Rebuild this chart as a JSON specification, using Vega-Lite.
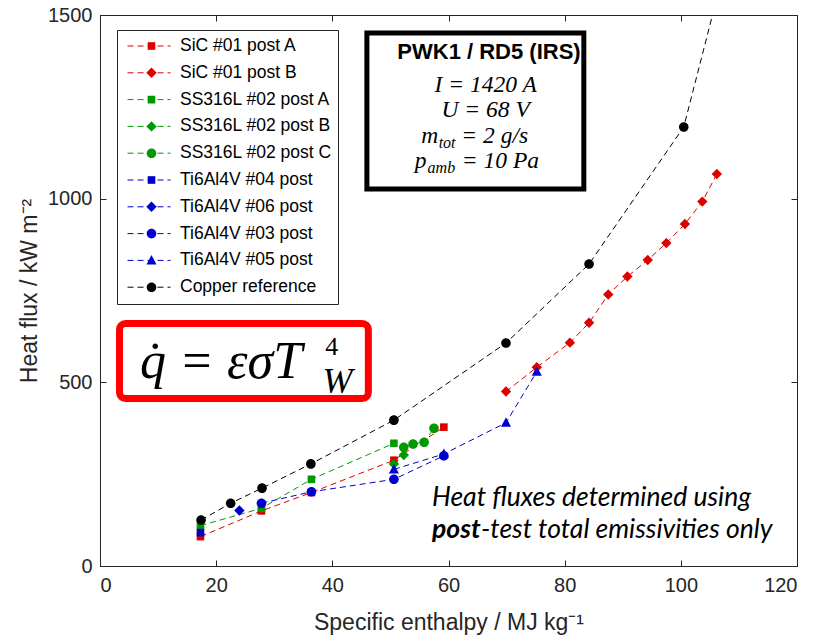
{
  "$schema": "https://vega.github.io/schema/vega-lite/v6.json",
  "width": 697,
  "height": 551,
  "autosize": "none",
  "padding": {"left": 100, "top": 15, "right": 21, "bottom": 73},
  "background": "white",
  "config": {
    "view": {"stroke": "#262626", "strokeWidth": 1},
    "font": "Liberation Sans",
    "axis": {"grid": false}
  },
  "datasets": {
    "pts": [
      {"series": "SiC #01 post A", "x": 17.3, "y": 80},
      {"series": "SiC #01 post A", "x": 27.8, "y": 150},
      {"series": "SiC #01 post A", "x": 36.4, "y": 200},
      {"series": "SiC #01 post A", "x": 50.6, "y": 288},
      {"series": "SiC #01 post A", "x": 59.2, "y": 378},
      {"series": "SiC #01 post B", "x": 69.9, "y": 475},
      {"series": "SiC #01 post B", "x": 75.2, "y": 541},
      {"series": "SiC #01 post B", "x": 80.9, "y": 608},
      {"series": "SiC #01 post B", "x": 84.2, "y": 662},
      {"series": "SiC #01 post B", "x": 87.5, "y": 739},
      {"series": "SiC #01 post B", "x": 90.8, "y": 788},
      {"series": "SiC #01 post B", "x": 94.3, "y": 833},
      {"series": "SiC #01 post B", "x": 97.5, "y": 879},
      {"series": "SiC #01 post B", "x": 100.7, "y": 931},
      {"series": "SiC #01 post B", "x": 103.7, "y": 992},
      {"series": "SiC #01 post B", "x": 106.2, "y": 1067},
      {"series": "SS316L #02 post A", "x": 17.3, "y": 110},
      {"series": "SS316L #02 post A", "x": 27.8, "y": 157},
      {"series": "SS316L #02 post A", "x": 36.4, "y": 236},
      {"series": "SS316L #02 post A", "x": 50.6, "y": 334},
      {"series": "SS316L #02 post B", "x": 50.6, "y": 278},
      {"series": "SS316L #02 post B", "x": 52.3, "y": 302},
      {"series": "SS316L #02 post C", "x": 52.3, "y": 323},
      {"series": "SS316L #02 post C", "x": 53.9, "y": 332},
      {"series": "SS316L #02 post C", "x": 55.8, "y": 337},
      {"series": "SS316L #02 post C", "x": 57.5, "y": 375},
      {"series": "Ti6Al4V #04 post", "x": 17.3, "y": 91},
      {"series": "Ti6Al4V #06 post", "x": 24.0, "y": 151},
      {"series": "Ti6Al4V #03 post", "x": 27.8, "y": 171},
      {"series": "Ti6Al4V #03 post", "x": 36.4, "y": 202},
      {"series": "Ti6Al4V #03 post", "x": 50.6, "y": 236},
      {"series": "Ti6Al4V #03 post", "x": 59.2, "y": 300},
      {"series": "Ti6Al4V #05 post", "x": 50.6, "y": 263},
      {"series": "Ti6Al4V #05 post", "x": 59.2, "y": 305},
      {"series": "Ti6Al4V #05 post", "x": 69.9, "y": 390},
      {"series": "Ti6Al4V #05 post", "x": 75.2, "y": 529},
      {"series": "Copper reference", "x": 17.4, "y": 125},
      {"series": "Copper reference", "x": 22.5, "y": 171},
      {"series": "Copper reference", "x": 27.9, "y": 212},
      {"series": "Copper reference", "x": 36.3, "y": 278},
      {"series": "Copper reference", "x": 50.6, "y": 397},
      {"series": "Copper reference", "x": 69.9, "y": 607},
      {"series": "Copper reference", "x": 84.2, "y": 822},
      {"series": "Copper reference", "x": 100.5, "y": 1195},
      {"series": "Copper reference", "x": 110, "y": 1780}
    ],
    "box_params": [{"x": 45.95, "x2": 83.3, "y": 1451, "y2": 1026}],
    "box_formula": [{"x": 3.36, "x2": 46.2, "y": 660, "y2": 456}],
    "t_title": [{"x": 66.97, "y": 1399, "text": "PWK1 / RD5 (IRS)"}],
    "t_math_c": [
      {"x": 66.4, "y": 1290.4, "text": "I = 1420 A"},
      {"x": 66.4, "y": 1222.3, "text": "U = 68 V"}
    ],
    "t_math_l": [
      {"x": 55.3, "y": 1151.6, "text": "m"},
      {"x": 62.2, "y": 1151.6, "text": "= 2 g/s"},
      {"x": 54.2, "y": 1083.5, "text": "p"},
      {"x": 62.3, "y": 1083.5, "text": "= 10 Pa"}
    ],
    "t_math_sub": [
      {"x": 58.3, "y": 1138, "text": "tot"},
      {"x": 56.4, "y": 1070, "text": "amb"}
    ],
    "t_formula": [{"x": 6.89, "y": 511.8, "text": "q̇ = εσT"}],
    "t_formula_sup": [{"x": 38.8, "y": 574.4, "text": "4"}],
    "t_formula_sub": [{"x": 38.3, "y": 471, "text": "W"}],
    "t_note": [
      {"x": 57.16, "y": 163.3, "text": "Heat fluxes determined using"},
      {"x": 65.6, "y": 76.2, "text": "-test total emissivities only"}
    ],
    "t_note_bold": [{"x": 57.16, "y": 76.2, "text": "post"}]
  },
  "encoding": {
    "x": {"field": "x", "type": "quantitative", "scale": {"domain": [0, 120], "nice": false, "zero": false}, "axis": null},
    "y": {"field": "y", "type": "quantitative", "scale": {"domain": [0, 1500], "nice": false, "zero": false}, "axis": null}
  },
  "layer": [
    {
      "data": {"name": "box_params"},
      "mark": {"type": "rect", "fill": "white", "stroke": "black", "strokeWidth": 5},
      "encoding": {"x2": {"field": "x2"}, "y2": {"field": "y2"}}
    },
    {
      "data": {"name": "box_formula"},
      "mark": {"type": "rect", "fill": "white", "stroke": "#FF0000", "strokeWidth": 7, "cornerRadius": 6},
      "encoding": {"x2": {"field": "x2"}, "y2": {"field": "y2"}}
    },
    {
      "data": {"name": "t_title"},
      "mark": {"type": "text", "font": "Liberation Sans", "fontWeight": "bold", "fontSize": 22, "align": "center", "baseline": "middle", "color": "black"},
      "encoding": {"text": {"field": "text"}}
    },
    {
      "data": {"name": "t_math_c"},
      "mark": {"type": "text", "font": "Liberation Serif", "fontStyle": "italic", "fontSize": 23.5, "align": "center", "baseline": "alphabetic", "color": "black"},
      "encoding": {"text": {"field": "text"}}
    },
    {
      "data": {"name": "t_math_l"},
      "mark": {"type": "text", "font": "Liberation Serif", "fontStyle": "italic", "fontSize": 23.5, "align": "left", "baseline": "alphabetic", "color": "black"},
      "encoding": {"text": {"field": "text"}}
    },
    {
      "data": {"name": "t_math_sub"},
      "mark": {"type": "text", "font": "Liberation Serif", "fontStyle": "italic", "fontSize": 16, "align": "left", "baseline": "alphabetic", "color": "black"},
      "encoding": {"text": {"field": "text"}}
    },
    {
      "data": {"name": "t_formula"},
      "mark": {"type": "text", "font": "Liberation Serif", "fontStyle": "italic", "fontSize": 52, "align": "left", "baseline": "alphabetic", "color": "black"},
      "encoding": {"text": {"field": "text"}}
    },
    {
      "data": {"name": "t_formula_sup"},
      "mark": {"type": "text", "font": "Liberation Serif", "fontSize": 26, "align": "left", "baseline": "alphabetic", "color": "black"},
      "encoding": {"text": {"field": "text"}}
    },
    {
      "data": {"name": "t_formula_sub"},
      "mark": {"type": "text", "font": "Liberation Serif", "fontStyle": "italic", "fontSize": 36, "align": "left", "baseline": "alphabetic", "color": "black"},
      "encoding": {"text": {"field": "text"}}
    },
    {
      "data": {"name": "t_note"},
      "mark": {"type": "text", "font": "Lato", "fontStyle": "italic", "fontSize": 26.5, "align": "left", "baseline": "alphabetic", "color": "black"},
      "encoding": {"text": {"field": "text"}}
    },
    {
      "data": {"name": "t_note_bold"},
      "mark": {"type": "text", "font": "Lato", "fontStyle": "italic", "fontWeight": "bold", "fontSize": 26.5, "align": "left", "baseline": "alphabetic", "color": "black"},
      "encoding": {"text": {"field": "text"}}
    },
    {
      "data": {"name": "pts"},
      "mark": {"type": "line", "strokeDash": [6, 4], "strokeWidth": 1, "clip": true},
      "encoding": {
        "x": {
          "field": "x", "type": "quantitative",
          "scale": {"domain": [0, 120], "nice": false, "zero": false},
          "axis": {
            "orient": "bottom", "values": [0, 20, 40, 60, 80, 100, 120], "format": "d",
            "tickSize": -6, "tickColor": "#262626", "domainColor": "#262626",
            "labelPadding": 15, "labelFontSize": 20, "labelColor": "#262626", "labelFont": "Liberation Sans",
            "title": "Specific enthalpy / MJ kg⁻¹", "titleFontSize": 23, "titleFontWeight": "normal",
            "titleColor": "#262626", "titleFont": "Liberation Sans", "titlePadding": 16
          }
        },
        "y": {
          "field": "y", "type": "quantitative",
          "scale": {"domain": [0, 1500], "nice": false, "zero": false},
          "axis": {
            "orient": "left", "values": [0, 500, 1000, 1500], "format": "d",
            "tickSize": -6, "tickColor": "#262626", "domainColor": "#262626",
            "labelPadding": 14, "labelFontSize": 20, "labelColor": "#262626", "labelFont": "Liberation Sans",
            "title": "Heat flux / kW m⁻²", "titleFontSize": 23, "titleFontWeight": "normal",
            "titleColor": "#262626", "titleFont": "Liberation Sans", "titlePadding": 6
          }
        },
        "stroke": {
          "field": "series", "type": "nominal", "sort": null,
          "scale": {"range": ["#DD0000", "#DD0000", "#009900", "#009900", "#009900", "#0000CC", "#0000CC", "#0000CC", "#0000CC", "#000000"]},
          "legend": {
            "orient": "none", "legendX": 17, "legendY": 15, "title": null,
            "symbolType": "stroke", "symbolSize": 1849, "symbolDash": [6, 4], "symbolStrokeWidth": 1,
            "clipHeight": 20, "rowPadding": 6.8, "padding": 6, "symbolOffset": 4, "labelOffset": 9,
            "labelFontSize": 17.5, "labelFont": "Liberation Sans", "labelColor": "black",
            "strokeColor": "#262626"
          }
        }
      }
    },
    {
      "data": {"name": "pts"},
      "mark": {"type": "point", "filled": true, "size": 1849, "opacity": 1, "clip": true},
      "encoding": {
        "x": {
          "field": "x", "type": "quantitative",
          "scale": {"domain": [0, 120], "nice": false, "zero": false},
          "axis": {"orient": "top", "values": [0, 20, 40, 60, 80, 100, 120], "labels": false, "title": null, "tickSize": -6, "tickColor": "#262626", "domainColor": "#262626"}
        },
        "y": {
          "field": "y", "type": "quantitative",
          "scale": {"domain": [0, 1500], "nice": false, "zero": false},
          "axis": {"orient": "right", "values": [0, 500, 1000, 1500], "labels": false, "title": null, "tickSize": -6, "tickColor": "#262626", "domainColor": "#262626"}
        },
        "color": {
          "field": "series", "type": "nominal",
          "scale": {
            "domain": ["SiC #01 post A", "SiC #01 post B", "SS316L #02 post A", "SS316L #02 post B", "SS316L #02 post C", "Ti6Al4V #04 post", "Ti6Al4V #06 post", "Ti6Al4V #03 post", "Ti6Al4V #05 post", "Copper reference"],
            "range": ["#DD0000", "#DD0000", "#009900", "#009900", "#009900", "#0000CC", "#0000CC", "#0000CC", "#0000CC", "#000000"]
          },
          "legend": {
            "orient": "none", "legendX": 17, "legendY": 15, "title": null,
            "symbolSize": 1849, "clipHeight": 20, "rowPadding": 6.8, "padding": 6, "symbolOffset": 6, "labelOffset": 9,
            "labelFontSize": 17.5, "labelFont": "Liberation Sans", "labelColor": "transparent", "labelExpr": "''"
          }
        },
        "shape": {
          "field": "series", "type": "nominal",
          "scale": {
            "domain": ["SiC #01 post A", "SiC #01 post B", "SS316L #02 post A", "SS316L #02 post B", "SS316L #02 post C", "Ti6Al4V #04 post", "Ti6Al4V #06 post", "Ti6Al4V #03 post", "Ti6Al4V #05 post", "Copper reference"],
            "range": [
              "M-0.177,-0.177H0.177V0.177H-0.177Z",
              "M0,-0.242L0.242,0L0,0.242L-0.242,0Z",
              "M-0.177,-0.177H0.177V0.177H-0.177Z",
              "M0,-0.242L0.242,0L0,0.242L-0.242,0Z",
              "M0.223,0A0.223,0.223,0,1,1,-0.223,0A0.223,0.223,0,1,1,0.223,0Z",
              "M-0.177,-0.177H0.177V0.177H-0.177Z",
              "M0,-0.242L0.242,0L0,0.242L-0.242,0Z",
              "M0.223,0A0.223,0.223,0,1,1,-0.223,0A0.223,0.223,0,1,1,0.223,0Z",
              "M0,-0.256L0.233,0.186H-0.233Z",
              "M0.223,0A0.223,0.223,0,1,1,-0.223,0A0.223,0.223,0,1,1,0.223,0Z"
            ]
          },
          "legend": {
            "orient": "none", "legendX": 17, "legendY": 15, "title": null,
            "symbolSize": 1849, "clipHeight": 20, "rowPadding": 6.8, "padding": 6, "symbolOffset": 6, "labelOffset": 9,
            "labelFontSize": 17.5, "labelFont": "Liberation Sans", "labelColor": "transparent", "labelExpr": "''"
          }
        }
      }
    }
  ],
  "resolve": {"axis": {"x": "independent", "y": "independent"}}
}
